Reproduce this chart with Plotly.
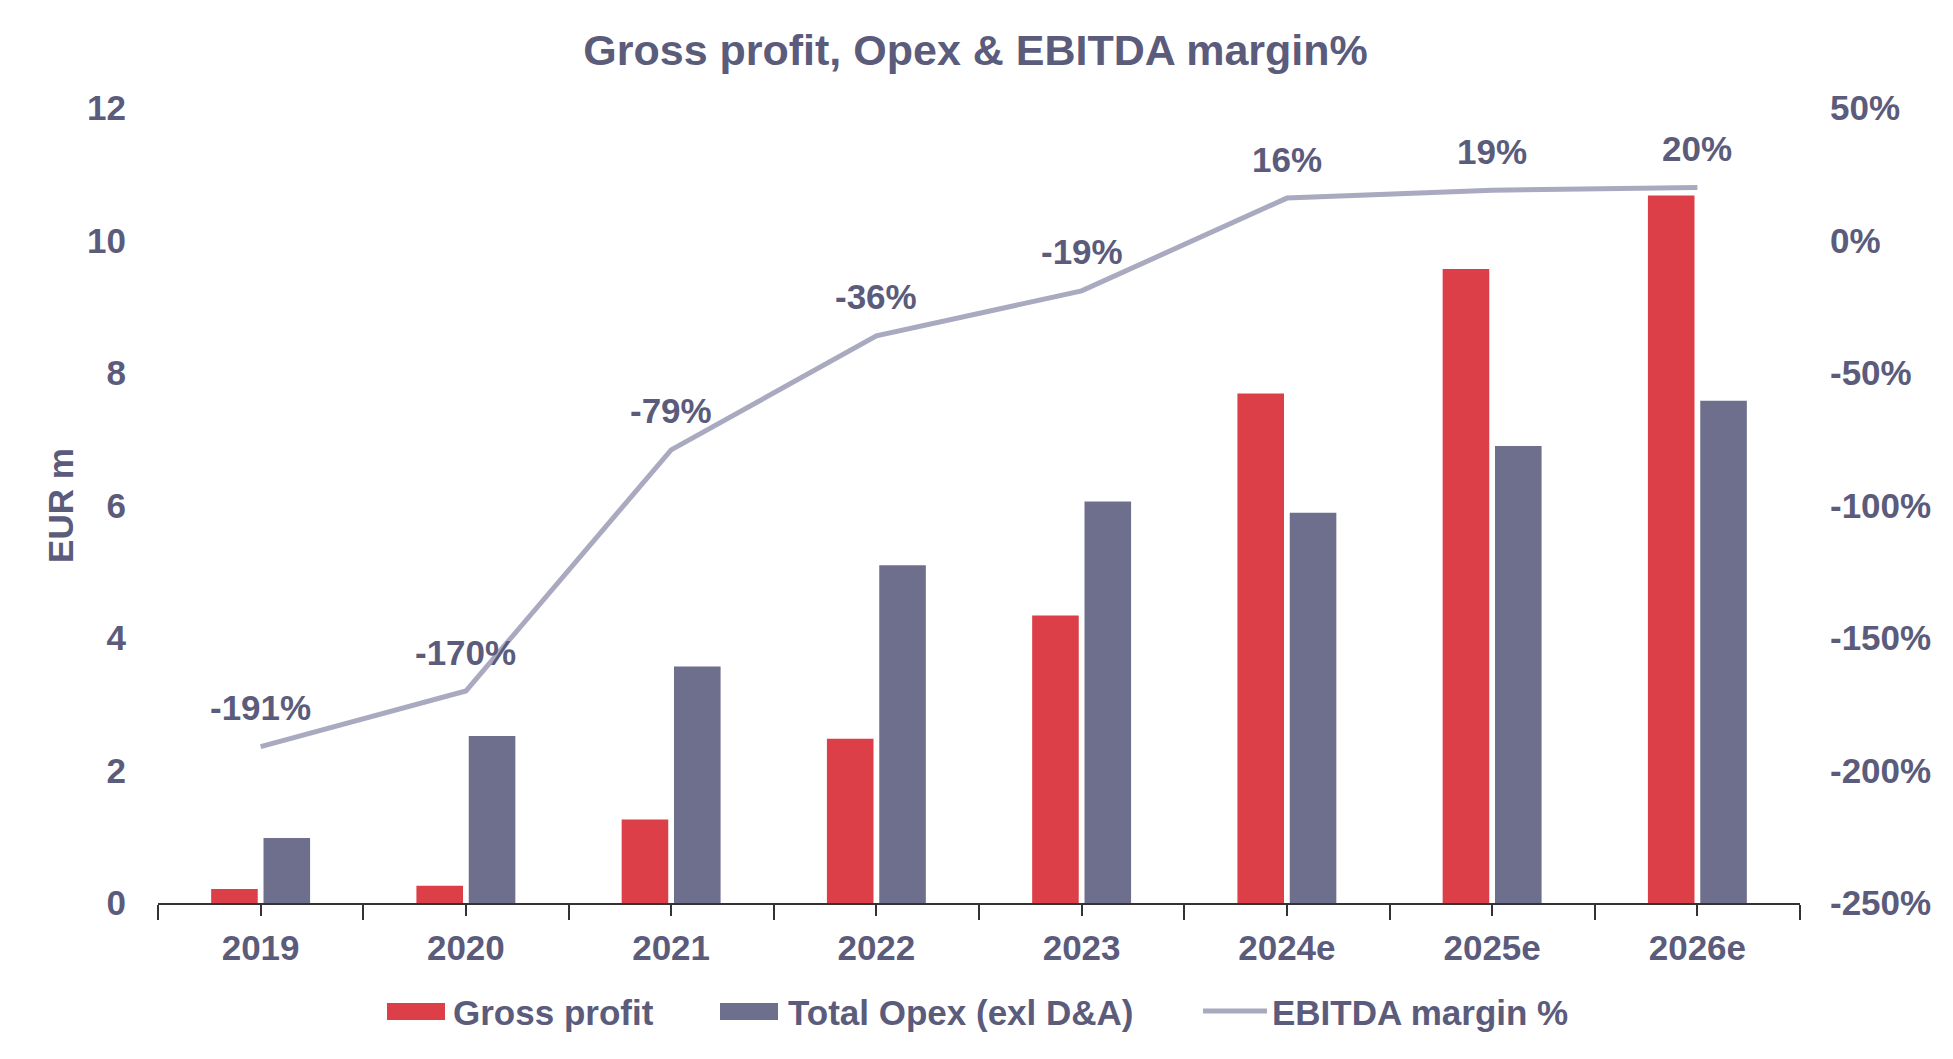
import plotly.graph_objects as go

categories = ["2019", "2020", "2021", "2022", "2023", "2024e", "2025e", "2026e"]
gross_profit = [0.21, 0.26, 1.26, 2.48, 4.34, 7.69, 9.57, 10.68]
total_opex = [0.98, 2.52, 3.57, 5.10, 6.06, 5.89, 6.90, 7.58]
ebitda_margin = [-191, -170, -79, -36, -19, 16, 19, 20]
left_ticks = [0, 2, 4, 6, 8, 10, 12]
right_ticks = [-250, -200, -150, -100, -50, 0, 50]

TEXT = "#5b5b7b"
RED = "#dd3f48"
SLATE = "#6e6f8c"
LINE = "#a9a9c0"
FONT = "Liberation Sans, Arial, sans-serif"

W, H = 1953, 1059
L, R, T, B = 158, 1800, 108, 903

xs = list(range(len(categories)))

fig = go.Figure()
fig.add_trace(go.Bar(x=xs, y=gross_profit, name="Gross profit", marker_color=RED,
                     marker_line_width=0, showlegend=False))
fig.add_trace(go.Bar(x=xs, y=total_opex, name="Total Opex (exl D&A)", marker_color=SLATE,
                     marker_line_width=0, showlegend=False))
fig.add_trace(go.Scatter(x=xs, y=ebitda_margin, name="EBITDA margin %", mode="lines",
                         line=dict(color=LINE, width=5), yaxis="y2", showlegend=False))

annotations = []
for i, v in enumerate(ebitda_margin):
    annotations.append(dict(x=xs[i], y=v, xref="x", yref="y2", text=f"{v}%", showarrow=False,
                            yshift=39, font=dict(family=FONT, size=35, color=TEXT, weight="bold")))

def px_x(p):
    return (p - L) / (R - L)

def px_y(p):
    return (B - p) / (B - T)

shapes = [
    dict(type="rect", xref="paper", yref="paper", x0=px_x(387), x1=px_x(445), y0=px_y(1003), y1=px_y(1020),
         fillcolor=RED, line_width=0),
    dict(type="rect", xref="paper", yref="paper", x0=px_x(720), x1=px_x(778), y0=px_y(1003), y1=px_y(1020),
         fillcolor=SLATE, line_width=0),
    dict(type="line", xref="paper", yref="paper", x0=px_x(1203), x1=px_x(1267), y0=px_y(1011), y1=px_y(1011),
         line=dict(color=LINE, width=5)),
]
legend_items = [("Gross profit", 451), ("Total Opex (exl D&A)", 786), ("EBITDA margin %", 1270)]
for txt, px in legend_items:
    annotations.append(dict(x=px_x(px), y=px_y(1012), xref="paper", yref="paper", text=txt, showarrow=False,
                            xanchor="left", yanchor="middle",
                            font=dict(family=FONT, size=35, color=TEXT, weight="bold")))

fig.update_layout(
    width=W, height=H,
    margin=dict(l=L, r=W - R, t=T, b=H - B, pad=0),
    paper_bgcolor="white", plot_bgcolor="white",
    barmode="group", bargap=0.49, bargroupgap=0.11,
    title=dict(text="Gross profit, Opex & EBITDA margin%", x=0.4995, xanchor="center",
               y=1 - 50 / H, yanchor="middle",
               font=dict(family=FONT, size=43, color=TEXT, weight="bold")),
    font=dict(family=FONT, color=TEXT),
    xaxis=dict(range=[-0.5, len(categories) - 0.5], tickvals=xs, ticktext=categories,
               showgrid=False, zeroline=False, showline=True, linecolor="#333333", linewidth=2,
               ticks="outside", ticklen=11, tickwidth=2, tickcolor="#333333",
               ticklabelstandoff=2,
               minor=dict(tickvals=[i - 0.5 for i in range(len(categories) + 1)], ticks="outside",
                          ticklen=15, tickwidth=2, tickcolor="#333333", showgrid=False),
               tickfont=dict(family=FONT, size=35, color=TEXT, weight="bold")),
    yaxis=dict(range=[0, 12], tickvals=left_ticks, ticktext=[str(v) for v in left_ticks],
               showgrid=False, zeroline=False, showline=False,
               ticks="outside", ticklen=24, tickcolor="rgba(0,0,0,0)",
               tickfont=dict(family=FONT, size=35, color=TEXT, weight="bold"),
               title=dict(text="EUR m", standoff=2,
                          font=dict(family=FONT, size=35, color=TEXT, weight="bold"))),
    yaxis2=dict(range=[-250, 50], tickvals=right_ticks, ticktext=[f"{v}%" for v in right_ticks],
                overlaying="y", side="right",
                showgrid=False, zeroline=False, showline=False,
                ticks="outside", ticklen=22, tickcolor="rgba(0,0,0,0)",
                tickfont=dict(family=FONT, size=35, color=TEXT, weight="bold")),
    shapes=shapes,
    annotations=annotations,
)

fig.write_html("out.html")
